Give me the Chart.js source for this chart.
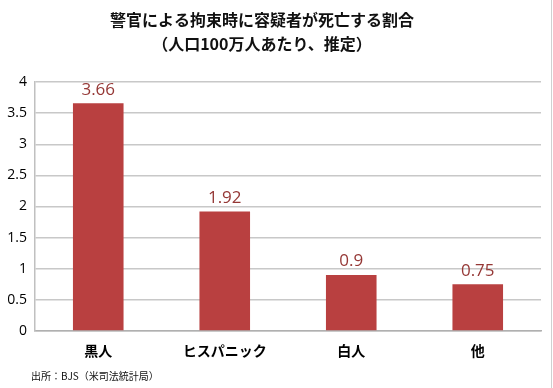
<!DOCTYPE html>
<html><head><meta charset="utf-8">
<script src="https://cdn.jsdelivr.net/npm/chart.js@4.4.1/dist/chart.umd.min.js"></script>
<style>html,body{margin:0;padding:0;background:#fff}#wrap{width:553px;height:388px}</style>
</head><body><div id="wrap"><canvas id="c" width="553" height="388"></canvas></div>
<script>
const titleLines = ["警官による拘束時に容疑者が死亡する割合", "（人口100万人あたり、推定）"];
const categories = ["黒人", "ヒスパニック", "白人", "他"];
const values = [3.66, 1.92, 0.9, 0.75];
const valueLabels = ["3.66", "1.92", "0.9", "0.75"];
const yTicks = [0, 0.5, 1, 1.5, 2, 2.5, 3, 3.5, 4];
const yTickLabels = ["0", "0.5", "1", "1.5", "2", "2.5", "3", "3.5", "4"];
const sourceText = "出所：BJS（米司法統計局）";

const FONT = "'Open Sans','Noto Sans CJK JP',sans-serif";
const JFONT = "'Noto Sans CJK JP',sans-serif";

const extras = {
  id: 'extras',
  afterDatasetsDraw(chart) {
    const ctx = chart.ctx;
    const meta = chart.getDatasetMeta(0);
    ctx.save();
    ctx.fillStyle = '#953735';
    ctx.font = "17px " + FONT;
    ctx.textAlign = 'center';
    ctx.textBaseline = 'bottom';
    meta.data.forEach((bar, i) => {
      ctx.fillText(valueLabels[i], bar.x, bar.y - 5);
    });
    ctx.restore();
  },
  afterDraw(chart) {
    const ctx = chart.ctx;
    ctx.save();
    ctx.fillStyle = '#111';
    ctx.textAlign = 'center';
    ctx.textBaseline = 'middle';
    ctx.font = "bold 16px " + JFONT;
    ctx.fillText(titleLines[0], 262, 20);
    ctx.fillText(titleLines[1], 262, 44);
    ctx.textAlign = 'left';
    ctx.font = "10px " + JFONT;
    ctx.fillText(sourceText, 31, 376);
    ctx.strokeStyle = '#d0d0d0';
    ctx.lineWidth = 1;
    ctx.beginPath();
    ctx.moveTo(551.5, 0);
    ctx.lineTo(551.5, 388);
    ctx.stroke();
    ctx.restore();
  }
};

new Chart(document.getElementById('c'), {
  type: 'bar',
  data: {
    labels: categories,
    datasets: [{
      data: values,
      backgroundColor: '#b94040',
      borderWidth: 0,
      categoryPercentage: 1,
      barPercentage: 0.4
    }]
  },
  options: {
    responsive: false,
    animation: false,
    events: [],
    layout: { padding: { top: 82, right: 12, bottom: 0, left: 0 } },
    plugins: { legend: { display: false }, tooltip: { enabled: false }, title: { display: false } },
    scales: {
      x: {
        grid: { display: false, drawTicks: false },
        border: { display: true, color: '#b0b0b0', width: 1.5 },
        ticks: { color: '#000', font: { family: JFONT, size: 14, weight: 'bold' }, padding: 11, maxRotation: 0 },
        afterFit(s) { s.height = 57; }
      },
      y: {
        min: 0, max: 4,
        afterBuildTicks(s) { s.ticks = yTicks.map(v => ({ value: v })); },
        grid: { color: '#c8c8c8', lineWidth: 1.5, drawTicks: false },
        border: { display: true, color: '#c0c0c0', width: 1.5 },
        ticks: {
          color: '#000', font: { family: FONT, size: 14 }, padding: 8,
          callback: (v) => yTickLabels[yTicks.indexOf(v)]
        },
        afterFit(s) { s.width = 35; }
      }
    }
  },
  plugins: [extras]
});
</script>
</body></html>
